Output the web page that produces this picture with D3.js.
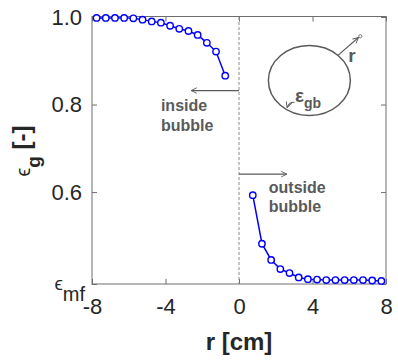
<!DOCTYPE html>
<html>
<head>
  <meta charset="utf-8">
  <title>gas fraction profile around bubble</title>
  <style>
    body { margin: 0; background: #fff; }
    svg { font-family: "Liberation Sans", Arial, sans-serif; }
  </style>
</head>
<body>
  <svg width="398" height="360"></svg>
  <script src="https://cdn.jsdelivr.net/npm/d3@7/dist/d3.min.js"></script>
  <script>
  // data
  var rInside = [-7.75, -7.25, -6.75, -6.25, -5.75, -5.25, -4.75, -4.25, -3.75, -3.25, -2.75, -2.25, -1.75, -1.25, -0.75];
  var epsInside = [0.998, 0.998, 0.998, 0.998, 0.997, 0.994, 0.990, 0.987, 0.980, 0.973, 0.968, 0.959, 0.941, 0.921, 0.866];
  var rOutside = [0.75, 1.25, 1.75, 2.25, 2.75, 3.25, 3.75, 4.25, 4.75, 5.25, 5.75, 6.25, 6.75, 7.25, 7.75];
  var epsOutside = [0.593, 0.482, 0.445, 0.424, 0.415, 0.405, 0.401, 0.400, 0.399, 0.399, 0.399, 0.399, 0.399, 0.398, 0.397];

  var xTicks = [-8, -4, 0, 4, 8];
  var yTicks = [0.39, 0.6, 0.8, 1.0];
  var yTickLabels = ["", "0.6", "0.8", "1.0"];

  var svg = d3.select("svg");
  var plotL = 92, plotR = 386, plotT = 17, plotB = 284;

  var x = d3.scaleLinear().domain([-8, 8]).range([plotL, plotR]);
  var y = d3.scaleLinear().domain([0.39, 1.0]).range([plotB, plotT]);

  var axisColor = "#6e6e6e";
  var textColor = "#262626";
  var noteColor = "#5a5a5a";

  // box
  svg.append("rect")
    .attr("x", plotL).attr("y", plotT - 0.5)
    .attr("width", plotR - plotL).attr("height", plotB - plotT + 0.5)
    .attr("fill", "none").attr("stroke", axisColor).attr("stroke-width", 1);

  // axes with inward ticks
  function styleAxis(g) {
    g.select(".domain").remove();
    g.selectAll(".tick line").attr("stroke", axisColor);
    g.selectAll(".tick text").attr("fill", textColor).style("font-size", "22px");
  }

  svg.append("g")
    .attr("transform", "translate(0," + plotB + ")")
    .call(d3.axisBottom(x).tickValues(xTicks).tickSizeInner(-5).tickSizeOuter(0).tickPadding(14)
      .tickFormat(function(d) { return String(d); }))
    .call(styleAxis);

  svg.append("g")
    .attr("transform", "translate(0," + (plotT - 0.5) + ")")
    .call(d3.axisTop(x).tickValues(xTicks).tickSizeInner(-5).tickSizeOuter(0).tickFormat(""))
    .call(styleAxis);

  svg.append("g")
    .attr("transform", "translate(" + plotL + ",0)")
    .call(d3.axisLeft(y).tickValues(yTicks).tickSizeInner(-5).tickSizeOuter(0).tickPadding(10)
      .tickFormat(function(d, i) { return yTickLabels[i]; }))
    .call(styleAxis);

  svg.append("g")
    .attr("transform", "translate(" + plotR + ",0)")
    .call(d3.axisRight(y).tickValues(yTicks).tickSizeInner(-5).tickSizeOuter(0).tickFormat(""))
    .call(styleAxis);

  // epsilon_mf label at the bottom tick
  var mf = svg.append("text")
    .attr("x", x(-8) - 7).attr("y", y(0.39) + 6)
    .attr("text-anchor", "end").attr("fill", textColor);
  mf.append("tspan").style("font-size", "19px").text("ϵ");
  mf.append("tspan").attr("dy", 11).style("font-size", "20px").text("mf");

  // vertical dashed line at r = 0
  svg.append("line")
    .attr("x1", x(0)).attr("x2", x(0))
    .attr("y1", plotT).attr("y2", plotB)
    .attr("stroke", "#8a8a8a").attr("stroke-width", 1)
    .attr("stroke-dasharray", "3,2");

  // series
  var line = d3.line()
    .x(function(d) { return x(d[0]); })
    .y(function(d) { return y(d[1]); });

  var series = [d3.zip(rInside, epsInside), d3.zip(rOutside, epsOutside)];

  series.forEach(function(pts) {
    svg.append("path")
      .datum(pts)
      .attr("d", line)
      .attr("fill", "none")
      .attr("stroke", "#0000ff")
      .attr("stroke-width", 1.5);

    svg.selectAll(null)
      .data(pts)
      .enter()
      .append("circle")
      .attr("cx", function(d) { return x(d[0]); })
      .attr("cy", function(d) { return y(d[1]); })
      .attr("r", 3.2)
      .attr("fill", "#fff")
      .attr("stroke", "#0000ff")
      .attr("stroke-width", 1.4);
  });

  // axis titles
  svg.append("text")
    .attr("x", x(0)).attr("y", 350)
    .attr("text-anchor", "middle")
    .attr("fill", textColor)
    .style("font-size", "24px").style("font-weight", "bold")
    .text("r [cm]");

  var yl = svg.append("text")
    .attr("transform", "translate(30,151) rotate(-90)")
    .attr("text-anchor", "middle")
    .attr("fill", textColor);
  yl.append("tspan").style("font-size", "20px").text("ϵ");
  yl.append("tspan").attr("dy", 10).style("font-size", "19px").style("font-weight", "bold").text("g");
  yl.append("tspan").attr("dy", -10).style("font-size", "24px").style("font-weight", "bold").text(" [-]");

  // annotations
  var defs = svg.append("defs");
  defs.append("marker")
    .attr("id", "head")
    .attr("viewBox", "0 0 10 10")
    .attr("refX", 9).attr("refY", 5)
    .attr("markerWidth", 7).attr("markerHeight", 7)
    .attr("markerUnits", "userSpaceOnUse")
    .attr("orient", "auto")
    .append("path")
    .attr("d", "M1,1 L9,5 L1,9")
    .attr("fill", "none").attr("stroke", noteColor).attr("stroke-width", 1.3);

  function arrow(r0, e0, r1, e1, size) {
    svg.append("line")
      .attr("x1", x(r0)).attr("y1", y(e0))
      .attr("x2", x(r1)).attr("y2", y(e1))
      .attr("stroke", noteColor).attr("stroke-width", 1.2)
      .attr("marker-end", "url(#head)");
  }

  function note(r, e, lines, dy) {
    var t = svg.append("text")
      .attr("x", x(r)).attr("y", y(e))
      .attr("fill", noteColor)
      .style("font-size", "16px").style("font-weight", "bold");
    lines.forEach(function(s, i) {
      t.append("tspan").attr("x", x(r)).attr("dy", i === 0 ? 0 : dy).text(s);
    });
  }

  arrow(0, 0.832, -2.6, 0.832);
  note(-4.25, 0.785, ["inside", "bubble"], 20);

  arrow(0, 0.641, 2.6, 0.641);
  note(1.62, 0.597, ["outside", "bubble"], 18.5);

  // bubble sketch
  svg.append("ellipse")
    .attr("cx", x(3.83)).attr("cy", y(0.855))
    .attr("rx", x(2.23) - x(0)).attr("ry", y(0) - y(0.08))
    .attr("fill", "none").attr("stroke", noteColor).attr("stroke-width", 1.5);

  arrow(5.40, 0.913, 6.50, 0.953);
  svg.append("circle")
    .attr("cx", x(6.60)).attr("cy", y(0.956)).attr("r", 1.6)
    .attr("fill", "#fff").attr("stroke", noteColor).attr("stroke-width", 0.8);

  svg.append("text")
    .attr("x", x(5.95)).attr("y", y(0.898))
    .attr("fill", noteColor)
    .style("font-size", "19px").style("font-weight", "bold")
    .text("r");

  // small curved pointer from the epsilon_gb label to the bubble edge
  svg.append("path")
    .attr("d", "M" + x(3.02) + "," + y(0.805) +
               " Q" + x(2.72) + "," + y(0.806) + " " + x(2.62) + "," + y(0.793))
    .attr("fill", "none")
    .attr("stroke", noteColor).attr("stroke-width", 1.1)
    .attr("marker-end", "url(#head)");

  var gb = svg.append("text")
    .attr("x", x(3.05)).attr("y", y(0.806))
    .attr("fill", noteColor).style("font-weight", "bold");
  gb.append("tspan").style("font-size", "19px").text("ε");
  gb.append("tspan").attr("dy", 6).style("font-size", "14px").text("gb");
  </script>
</body>
</html>
